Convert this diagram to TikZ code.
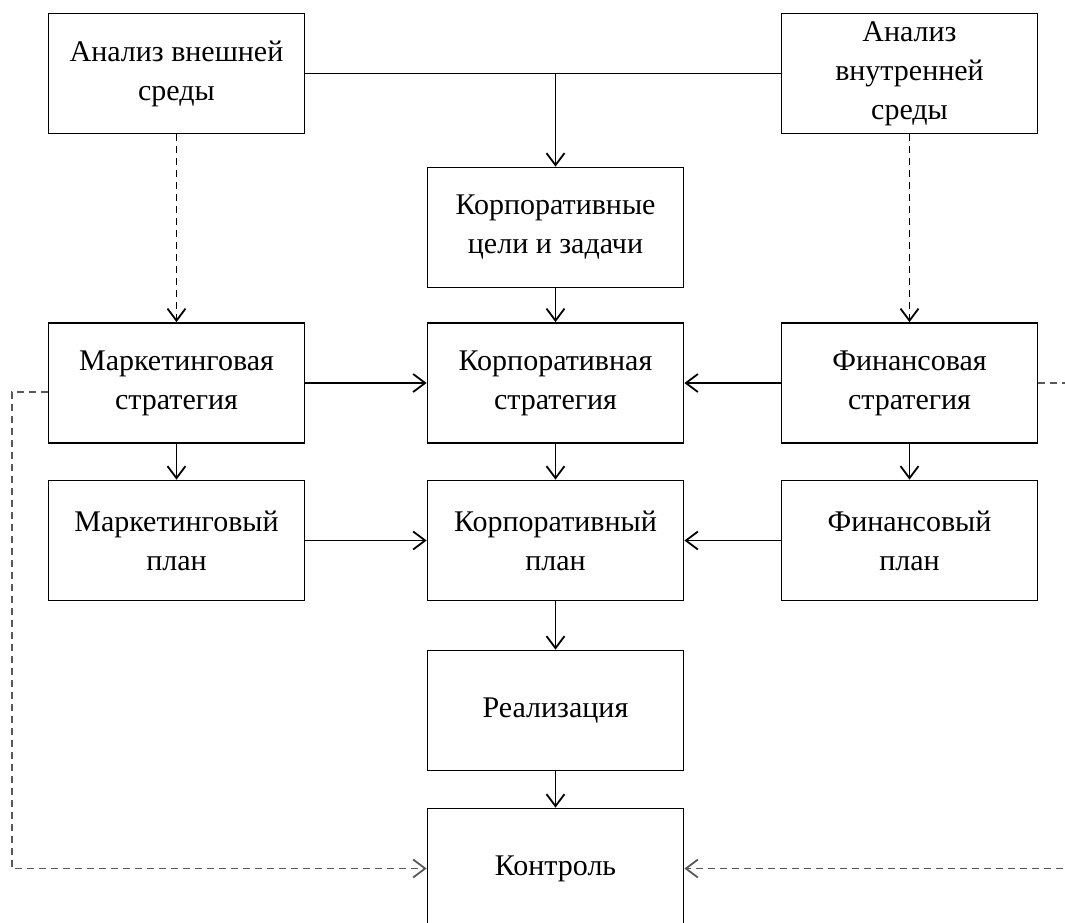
\documentclass[tikz,border=0pt]{standalone}
\usepackage{fontspec}
\setmainfont{Liberation Serif}
\usetikzlibrary{arrows.meta}

\begin{document}
\begin{tikzpicture}[x=0.5pt, y=-0.5pt,
    blockbox/.style={draw, line width=0.9pt, minimum width=128pt, minimum height=60pt,
      inner sep=0pt, align=center, font=\fontsize{15}{19.5}\selectfont},
    link/.style={line width=0.9pt, -{Straight Barb[length=6pt, width=9pt]}},
    dashlink/.style={link, dash pattern=on 3.5pt off 2.5pt},
    loopline/.style={dashlink, black!65}]
  \useasboundingbox (0,0) rectangle (1065,922);
  \clip (0,0) rectangle (1065,922);

  % analysis
  \node[blockbox] (ext) at (176.5, 73.5) {Анализ внешней\\среды};
  \node[blockbox] (int) at (909.5, 73.5) {Анализ\\внутренней\\среды};

  % centre column
  \node[blockbox] (goals)  at (555.5, 227.5) {Корпоративные\\цели и задачи};
  \node[blockbox] (cstrat) at (555.5, 383)   {Корпоративная\\стратегия};
  \node[blockbox] (cplan)  at (555.5, 540.5) {Корпоративный\\план};
  \node[blockbox] (real)   at (555.5, 710.5) {Реализация};
  \node[blockbox] (ctrl)   at (555.5, 868.5) {Контроль};

  % side columns
  \node[blockbox] (mstrat) at (176.5, 383)   {Маркетинговая\\стратегия};
  \node[blockbox] (mplan)  at (176.5, 540.5) {Маркетинговый\\план};
  \node[blockbox] (fstrat) at (909.5, 383)   {Финансовая\\стратегия};
  \node[blockbox] (fplan)  at (909.5, 540.5) {Финансовый\\план};

  % top junction
  \draw[line width=0.9pt] (ext) -- (int);
  \draw[link] (ext.east -| goals.north) -- (goals);

  % solid arrows
  \foreach \a/\b in {goals/cstrat, cstrat/cplan, cplan/real, real/ctrl,
                     mstrat/mplan, fstrat/fplan, mstrat/cstrat, fstrat/cstrat,
                     mplan/cplan, fplan/cplan}
    \draw[link] (\a) -- (\b);

  % dashed arrows
  \draw[dashlink] (ext) -- (mstrat);
  \draw[dashlink] (int) -- (fstrat);

  % feedback to control
  \draw[loopline] ([yshift=-4.5pt]mstrat.west) -- ++(-36,0) |- (ctrl.west);
  \draw[loopline, -] (fstrat.east) -- ++(40,0);
  \coordinate (redge) at (1075, 868.5);
  \draw[loopline] (redge) -- (ctrl.east);
\end{tikzpicture}
\end{document}
